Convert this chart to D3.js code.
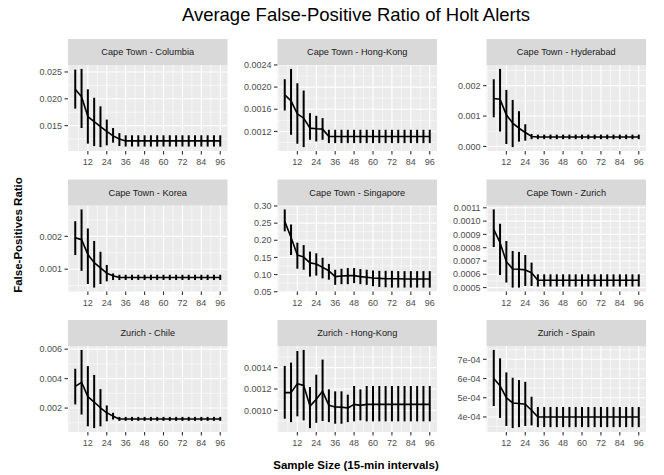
<!DOCTYPE html>
<html><head><meta charset="utf-8">
<script src="https://cdn.jsdelivr.net/npm/d3@7/dist/d3.min.js"></script>
<style>body{margin:0;background:#fff}text{font-family:"Liberation Sans",Arial,Helvetica,sans-serif}</style>
</head><body><svg id="chart" width="664" height="475"></svg>
<script>
const sampleSizes=[4,8,12,16,20,24,28,32,36,40,44,48,52,56,60,64,68,72,76,80,84,88,92,96];
const xTickValues=[12,24,36,48,60,72,84,96];
const xTickLabels=["12","24","36","48","60","72","84","96"];
const panelTitles=["Cape Town - Columbia","Cape Town - Hong-Kong","Cape Town - Hyderabad","Cape Town - Korea","Cape Town - Singapore","Cape Town - Zurich","Zurich - Chile","Zurich - Hong-Kong","Zurich - Spain"];

const meanColumbia=[0.02177,0.02038,0.01670,0.01575,0.0148,0.01392,0.01309,0.0125,0.01215,0.01215,0.01215,0.01215,0.01215,0.01215,0.01215,0.01215,0.01215,0.01215,0.01215,0.01215,0.01215,0.01215,0.01215,0.01215];
const hiColumbia=[0.02544,0.02557,0.02177,0.02019,0.0186,0.01613,0.01455,0.0136,0.0132,0.0132,0.0132,0.0132,0.0132,0.0132,0.0132,0.0132,0.0132,0.0132,0.0132,0.0132,0.0132,0.0132,0.0132,0.0132];
const loColumbia=[0.01816,0.01455,0.01164,0.01119,0.0110,0.01132,0.01183,0.0112,0.0111,0.0111,0.0111,0.0111,0.0111,0.0111,0.0111,0.0111,0.0111,0.0111,0.0111,0.0111,0.0111,0.0111,0.0111,0.0111];

const meanHongKong=[0.00186,0.001752,0.001518,0.00144,0.00126,0.001248,0.001242,0.00111,0.00111,0.00111,0.00111,0.00111,0.00111,0.00111,0.00111,0.00111,0.00111,0.00111,0.00111,0.00111,0.00111,0.00111,0.00111,0.00111];
const hiHongKong=[0.002142,0.002328,0.00207,0.001938,0.00153,0.001482,0.00144,0.00123,0.00123,0.00123,0.00123,0.00123,0.00123,0.00123,0.00123,0.00123,0.00123,0.00123,0.00123,0.00123,0.00123,0.00123,0.00123,0.00123];
const loHongKong=[0.001578,0.00114,0.000978,0.000918,0.00105,0.00102,0.00105,0.00099,0.00099,0.00099,0.00099,0.00099,0.00099,0.00099,0.00099,0.00099,0.00099,0.00099,0.00099,0.00099,0.00099,0.00099,0.00099,0.00099];

const meanHyderabad=[0.00158,0.00155,0.00104,0.00077,0.0006,0.00046,0.00033,0.00031,0.00031,0.00031,0.00031,0.00031,0.00031,0.00031,0.00031,0.00031,0.00031,0.00031,0.00031,0.00031,0.00031,0.00031,0.00031,0.00031];
const hiHyderabad=[0.00221,0.00255,0.00186,0.00153,0.00116,0.00073,0.00041,0.00039,0.00039,0.00039,0.00039,0.00039,0.00039,0.00039,0.00039,0.00039,0.00039,0.00039,0.00039,0.00039,0.00039,0.00039,0.00039,0.00039];
const loHyderabad=[0.00096,0.00049,0.00008,-0.00002,0.00016,0.00019,0.00024,0.00024,0.00024,0.00024,0.00024,0.00024,0.00024,0.00024,0.00024,0.00024,0.00024,0.00024,0.00024,0.00024,0.00024,0.00024,0.00024,0.00024];

const meanKorea=[0.00196,0.0019,0.00145,0.0012,0.00104,0.00088,0.0008,0.000747,0.000747,0.000747,0.000747,0.000747,0.000747,0.000747,0.000747,0.000747,0.000747,0.000747,0.000747,0.000747,0.000747,0.000747,0.000747,0.000747];
const hiKorea=[0.00246,0.00282,0.00224,0.00186,0.00153,0.00113,0.00087,0.00083,0.00083,0.00083,0.00083,0.00083,0.00083,0.00083,0.00083,0.00083,0.00083,0.00083,0.00083,0.00083,0.00083,0.00083,0.00083,0.00083];
const loKorea=[0.00143,0.00095,0.00055,0.00044,0.00055,0.00063,0.00067,0.00067,0.00067,0.00067,0.00067,0.00067,0.00067,0.00067,0.00067,0.00067,0.00067,0.00067,0.00067,0.00067,0.00067,0.00067,0.00067,0.00067];

const meanSingapore=[0.255,0.208,0.157,0.151,0.134,0.131,0.121,0.111,0.094,0.096,0.097,0.097,0.094,0.092,0.090,0.089,0.088,0.088,0.088,0.087,0.087,0.087,0.087,0.087];
const hiSingapore=[0.290,0.246,0.193,0.186,0.167,0.162,0.149,0.131,0.114,0.117,0.119,0.119,0.116,0.114,0.112,0.111,0.111,0.111,0.110,0.110,0.110,0.110,0.110,0.110];
const loSingapore=[0.226,0.157,0.117,0.114,0.094,0.097,0.089,0.085,0.070,0.072,0.072,0.075,0.072,0.070,0.066,0.064,0.063,0.062,0.062,0.062,0.062,0.062,0.062,0.062];

const meanZurich=[0.000938,0.000838,0.000695,0.00064,0.000638,0.000633,0.000612,0.000555,0.000555,0.000555,0.000555,0.000555,0.000555,0.000555,0.000555,0.000555,0.000555,0.000555,0.000555,0.000555,0.000555,0.000555,0.000555,0.000555];
const hiZurich=[0.001088,0.00098,0.00085,0.000775,0.000768,0.000745,0.000688,0.0006,0.0006,0.0006,0.0006,0.0006,0.0006,0.0006,0.0006,0.0006,0.0006,0.0006,0.0006,0.0006,0.0006,0.0006,0.0006,0.0006];
const loZurich=[0.000805,0.000595,0.000538,0.0005,0.0005,0.000512,0.000512,0.000508,0.000508,0.000508,0.000508,0.000508,0.000508,0.000508,0.000508,0.000508,0.000508,0.000508,0.000508,0.000508,0.000508,0.000508,0.000508,0.000508];

const meanChile=[0.00347,0.00375,0.00278,0.00241,0.00202,0.00168,0.00145,0.00126,0.00126,0.00126,0.00126,0.00126,0.00126,0.00126,0.00126,0.00126,0.00126,0.00126,0.00126,0.00126,0.00126,0.00126,0.00126,0.00126];
const hiChile=[0.00467,0.00595,0.00485,0.00425,0.00329,0.00218,0.00168,0.0014,0.0014,0.0014,0.0014,0.0014,0.0014,0.0014,0.0014,0.0014,0.0014,0.0014,0.0014,0.0014,0.0014,0.0014,0.0014,0.0014];
const loChile=[0.00225,0.00156,0.00076,0.00064,0.00076,0.0011,0.00122,0.00113,0.00113,0.00113,0.00113,0.00113,0.00113,0.00113,0.00113,0.00113,0.00113,0.00113,0.00113,0.00113,0.00113,0.00113,0.00113,0.00113];

const meanZurichHK=[0.001166,0.001166,0.00125,0.001234,0.00104,0.001103,0.001178,0.001047,0.001031,0.00103,0.001022,0.001056,0.001047,0.001056,0.001056,0.001056,0.001056,0.001056,0.001056,0.001056,0.001056,0.001056,0.001056,0.001056];
const hiZurichHK=[0.001416,0.001447,0.001556,0.001566,0.001219,0.001334,0.001475,0.001197,0.001178,0.001178,0.001147,0.001228,0.001197,0.001228,0.001228,0.001228,0.001228,0.001228,0.001228,0.001228,0.001228,0.001228,0.001228,0.001228];
const loZurichHK=[0.000922,0.00089,0.000944,0.000906,0.000834,0.000884,0.0009,0.00089,0.000875,0.000875,0.00089,0.000897,0.000906,0.000897,0.000897,0.000897,0.000897,0.000897,0.000897,0.000897,0.000897,0.000897,0.000897,0.000897];

const meanSpain=[0.0006,0.000562,0.0005,0.000473,0.00047,0.000466,0.000435,0.0004,0.0004,0.0004,0.0004,0.0004,0.0004,0.0004,0.0004,0.0004,0.0004,0.0004,0.0004,0.0004,0.0004,0.0004,0.0004,0.0004];
const hiSpain=[0.000749,0.000705,0.000632,0.000604,0.000592,0.000583,0.000505,0.000452,0.000452,0.000452,0.000452,0.000452,0.000452,0.000452,0.000452,0.000452,0.000452,0.000452,0.000452,0.000452,0.000452,0.000452,0.000452,0.000452];
const loSpain=[0.000457,0.000395,0.000353,0.000342,0.000347,0.000353,0.000356,0.000347,0.000347,0.000347,0.000347,0.000347,0.000347,0.000347,0.000347,0.000347,0.000347,0.000347,0.000347,0.000347,0.000347,0.000347,0.000347,0.000347];

const yTicksColumbia=[0.015,0.020,0.025], yLabelsColumbia=["0.015","0.020","0.025"];
const yTicksHongKong=[0.0012,0.0016,0.0020,0.0024], yLabelsHongKong=["0.0012","0.0016","0.0020","0.0024"];
const yTicksHyderabad=[0.000,0.001,0.002], yLabelsHyderabad=["0.000","0.001","0.002"];
const yTicksKorea=[0.001,0.002], yLabelsKorea=["0.001","0.002"];
const yTicksSingapore=[0.05,0.10,0.15,0.20,0.25,0.30], yLabelsSingapore=["0.05","0.10","0.15","0.20","0.25","0.30"];
const yTicksZurich=[0.0005,0.0006,0.0007,0.0008,0.0009,0.0010,0.0011], yLabelsZurich=["0.0005","0.0006","0.0007","0.0008","0.0009","0.0010","0.0011"];
const yTicksChile=[0.002,0.004,0.006], yLabelsChile=["0.002","0.004","0.006"];
const yTicksZurichHK=[0.0010,0.0012,0.0014], yLabelsZurichHK=["0.0010","0.0012","0.0014"];
const yTicksSpain=[0.0004,0.0005,0.0006,0.0007], yLabelsSpain=["4e-04","5e-04","6e-04","7e-04"];

const panels=[
 {title:panelTitles[0],mean:meanColumbia,hi:hiColumbia,lo:loColumbia,ticks:yTicksColumbia,labels:yLabelsColumbia},
 {title:panelTitles[1],mean:meanHongKong,hi:hiHongKong,lo:loHongKong,ticks:yTicksHongKong,labels:yLabelsHongKong},
 {title:panelTitles[2],mean:meanHyderabad,hi:hiHyderabad,lo:loHyderabad,ticks:yTicksHyderabad,labels:yLabelsHyderabad},
 {title:panelTitles[3],mean:meanKorea,hi:hiKorea,lo:loKorea,ticks:yTicksKorea,labels:yLabelsKorea},
 {title:panelTitles[4],mean:meanSingapore,hi:hiSingapore,lo:loSingapore,ticks:yTicksSingapore,labels:yLabelsSingapore},
 {title:panelTitles[5],mean:meanZurich,hi:hiZurich,lo:loZurich,ticks:yTicksZurich,labels:yLabelsZurich},
 {title:panelTitles[6],mean:meanChile,hi:hiChile,lo:loChile,ticks:yTicksChile,labels:yLabelsChile},
 {title:panelTitles[7],mean:meanZurichHK,hi:hiZurichHK,lo:loZurichHK,ticks:yTicksZurichHK,labels:yLabelsZurichHK},
 {title:panelTitles[8],mean:meanSpain,hi:hiSpain,lo:loSpain,ticks:yTicksSpain,labels:yLabelsSpain}
];

const svg=d3.select("#chart");
const colLeft=[68,277.5,486.5], panelW=159.5;
const stripTop=[39,179.5,320], stripH=26, panelH=86;

svg.append("text").attr("x",356).attr("y",21).attr("text-anchor","middle")
  .attr("font-size","18.5px").attr("fill","#000").text("Average False-Positive Ratio of Holt Alerts");
svg.append("text").attr("x",356).attr("y",469).attr("text-anchor","middle")
  .attr("font-size","11.5px").attr("font-weight","bold").attr("fill","#000").text("Sample Size (15-min intervals)");
svg.append("text").attr("transform","translate(22,235) rotate(-90)").attr("text-anchor","middle")
  .attr("font-size","11.5px").attr("font-weight","bold").attr("fill","#000").text("False-Positives Ratio");

const x=d3.scaleLinear().domain([-0.6,100.6]).range([0,panelW]);
const xMinor=[0,6,18,30,42,54,66,78,90];

panels.forEach((p,i)=>{
  const col=i%3,row=Math.floor(i/3);
  const left=colLeft[col], top=stripTop[row]+stripH;
  const g=svg.append("g").attr("transform",`translate(${left},${top})`);
  const ymin=d3.min(p.lo), ymax=d3.max(p.hi), r=ymax-ymin;
  const y=d3.scaleLinear().domain([ymin-0.05*r,ymax+0.05*r]).range([panelH,0]);
  // strip
  svg.append("rect").attr("x",left).attr("y",stripTop[row]).attr("width",panelW).attr("height",stripH).attr("fill","#d9d9d9");
  svg.append("text").attr("x",left+panelW/2).attr("y",stripTop[row]+stripH/2+3.2).attr("text-anchor","middle")
    .attr("font-size","9.2px").attr("fill","#1a1a1a").text(p.title);
  // background
  g.append("rect").attr("width",panelW).attr("height",panelH).attr("fill","#ebebeb");
  const clipId="clip"+i;
  g.append("clipPath").attr("id",clipId).append("rect").attr("width",panelW).attr("height",panelH);
  const grid=g.append("g").attr("clip-path",`url(#${clipId})`);
  // minor y
  const step=p.ticks[1]-p.ticks[0];
  const yMinor=[p.ticks[0]-step/2].concat(p.ticks.map(t=>t+step/2));
  grid.selectAll(".ymin").data(yMinor).enter().append("line")
    .attr("x1",0).attr("x2",panelW).attr("y1",d=>y(d)).attr("y2",d=>y(d)).attr("stroke","#fff").attr("stroke-width",0.55);
  grid.selectAll(".xmin").data(xMinor).enter().append("line")
    .attr("y1",0).attr("y2",panelH).attr("x1",d=>x(d)).attr("x2",d=>x(d)).attr("stroke","#fff").attr("stroke-width",0.55);
  grid.selectAll(".ymaj").data(p.ticks).enter().append("line")
    .attr("x1",0).attr("x2",panelW).attr("y1",d=>y(d)).attr("y2",d=>y(d)).attr("stroke","#fff").attr("stroke-width",1.1);
  grid.selectAll(".xmaj").data(xTickValues).enter().append("line")
    .attr("y1",0).attr("y2",panelH).attr("x1",d=>x(d)).attr("x2",d=>x(d)).attr("stroke","#fff").attr("stroke-width",1.1);
  // error bars
  g.selectAll(".eb").data(sampleSizes).enter().append("line")
    .attr("x1",d=>x(d)).attr("x2",d=>x(d)).attr("y1",(d,k)=>y(p.hi[k])).attr("y2",(d,k)=>y(p.lo[k]))
    .attr("stroke","#000").attr("stroke-width",2);
  // line
  const ln=d3.line().x((d)=>x(d)).y((d,k)=>y(p.mean[k]));
  g.append("path").datum(sampleSizes).attr("d",ln).attr("fill","none").attr("stroke","#000").attr("stroke-width",1.6).attr("stroke-linejoin","round");
  // x axis
  g.selectAll(".xt").data(xTickValues).enter().append("line")
    .attr("x1",d=>x(d)).attr("x2",d=>x(d)).attr("y1",panelH).attr("y2",panelH+3.5).attr("stroke","#333").attr("stroke-width",1.1);
  g.selectAll(".xl").data(xTickValues).enter().append("text")
    .attr("x",d=>x(d)).attr("y",panelH+14).attr("text-anchor","middle").attr("font-size","9px").attr("fill","#4d4d4d")
    .text((d,k)=>xTickLabels[k]);
  // y axis
  g.selectAll(".yt").data(p.ticks).enter().append("line")
    .attr("x1",-3.5).attr("x2",0).attr("y1",d=>y(d)).attr("y2",d=>y(d)).attr("stroke","#333").attr("stroke-width",1.1);
  g.selectAll(".yl").data(p.ticks).enter().append("text")
    .attr("x",-6).attr("y",d=>y(d)+3.2).attr("text-anchor","end").attr("font-size","9px").attr("fill","#4d4d4d")
    .text((d,k)=>p.labels[k]);
});
</script></body></html>
